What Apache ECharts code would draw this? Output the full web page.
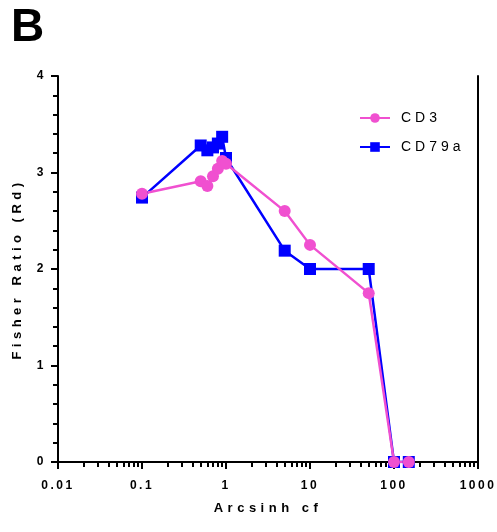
<!DOCTYPE html>
<html>
  <head>
    <meta charset="utf-8" />
    <script src="https://cdn.jsdelivr.net/npm/echarts@6.0.0/dist/echarts.min.js"></script>
    <style>
      body { margin: 0; background: #fff; }
    </style>
  </head>
  <body>
    <div id="main" style="width: 497px; height: 532px"></div>

    <script type="text/javascript">
      // Arcsinh cofactor values
      var cofactors = [0.1, 0.5, 0.6, 0.7, 0.8, 0.9, 1, 5, 10, 50, 100, 150];
      // Fisher ratio (Rd) per marker
      var cd3 = [2.78, 2.91, 2.86, 2.96, 3.04, 3.12, 3.09, 2.6, 2.25, 1.75, 0, 0];
      var cd79a = [2.74, 3.28, 3.23, 3.26, 3.3, 3.37, 3.15, 2.19, 2.0, 2.0, 0, 0];
      var xTicks = ["0.01", "0.1", "1", "10", "100", "1000"];

      var font = "Liberation Sans, Arial, sans-serif";
      var pink = "#F050D0";
      var blue = "#0000FF";

      // the original figure uses very wide letter spacing; add it when canvas draws text
      var spacingBySize = { 12: 2.5, 13: 4.5, 14: 4 };
      var origFillText = CanvasRenderingContext2D.prototype.fillText;
      CanvasRenderingContext2D.prototype.fillText = function (t, x, y, w) {
        var m = /(\d+)px/.exec(this.font);
        this.letterSpacing = ((m && spacingBySize[m[1]]) || 0) + "px";
        if (w === undefined) origFillText.call(this, t, x, y);
        else origFillText.call(this, t, x, y, w);
        this.letterSpacing = "0px";
      };

      function pairs(ys) {
        return cofactors.map(function (x, i) { return [x, ys[i]]; });
      }

      var myChart = echarts.init(document.getElementById("main"));

      var blackLine = { show: true, lineStyle: { color: "#000", width: 2 } };
      // plain frame axes for the top and right edges
      var frameX = {
        type: "log", min: 0.01, max: 1000, position: "top",
        axisLine: blackLine, axisTick: { show: false }, axisLabel: { show: false },
        splitLine: { show: false },
      };
      var frameY = {
        type: "value", min: 0, max: 4, position: "right",
        axisLine: blackLine, axisTick: { show: false }, axisLabel: { show: false },
        splitLine: { show: false },
      };

      var option = {
        animation: false,
        title: {
          text: "B",
          left: 6,
          top: 0,
          textStyle: { fontSize: 46, fontWeight: "bold", fontFamily: font, color: "#000" },
        },
        legend: {
          orient: "vertical",
          left: 354,
          top: 106,
          itemWidth: 30,
          itemHeight: 12,
          itemGap: 15,
          textStyle: { fontSize: 14, fontFamily: font, color: "#000", padding: [0, 0, 0, 6] },
          data: ["CD3", "CD79a"],
        },
        grid: { left: 58, right: 19, top: 76, bottom: 70 },
        xAxis: [
          {
            type: "log",
            logBase: 10,
            min: 0.01,
            max: 1000,
            name: "Arcsinh cf",
            nameLocation: "middle",
            nameGap: 40,
            nameTextStyle: { fontSize: 13, fontWeight: "bold", fontFamily: font, color: "#000" },
            axisLine: blackLine,
            axisTick: { show: true, inside: false, length: 7, lineStyle: { color: "#000", width: 2 } },
            minorTick: { show: true, splitNumber: 9, length: 5, lineStyle: { color: "#000", width: 2 } },
            splitLine: { show: false },
            axisLabel: {
              margin: 18,
              fontSize: 12,
              fontWeight: "bold",
              fontFamily: font,
              color: "#000",
              formatter: function (v) {
                var i = Math.round(Math.log10(v)) + 2;
                return xTicks[i] || "";
              },
            },
          },
          frameX,
        ],
        yAxis: [
          {
            type: "value",
            min: 0,
            max: 4,
            interval: 1,
            name: "Fisher Ratio (Rd)",
            nameLocation: "middle",
            nameGap: 34,
            nameTextStyle: { fontSize: 13, fontWeight: "bold", fontFamily: font, color: "#000" },
            axisLine: blackLine,
            axisTick: { show: true, inside: false, length: 7, lineStyle: { color: "#000", width: 2 } },
            minorTick: { show: true, splitNumber: 5, length: 5, lineStyle: { color: "#000", width: 2 } },
            splitLine: { show: false },
            axisLabel: { margin: 12, fontSize: 12, fontWeight: "bold", fontFamily: font, color: "#000" },
          },
          frameY,
        ],
        series: [
          {
            name: "CD79a",
            type: "line",
            data: pairs(cd79a),
            symbol: "rect",
            symbolSize: 12,
            color: blue,
            lineStyle: { width: 2.5, color: blue },
            itemStyle: { color: blue },
          },
          {
            name: "CD3",
            type: "line",
            data: pairs(cd3),
            symbol: "circle",
            symbolSize: 12,
            color: pink,
            lineStyle: { width: 2.5, color: pink },
            itemStyle: { color: pink },
          },
        ],
      };

      myChart.setOption(option);
    </script>
  </body>
</html>
